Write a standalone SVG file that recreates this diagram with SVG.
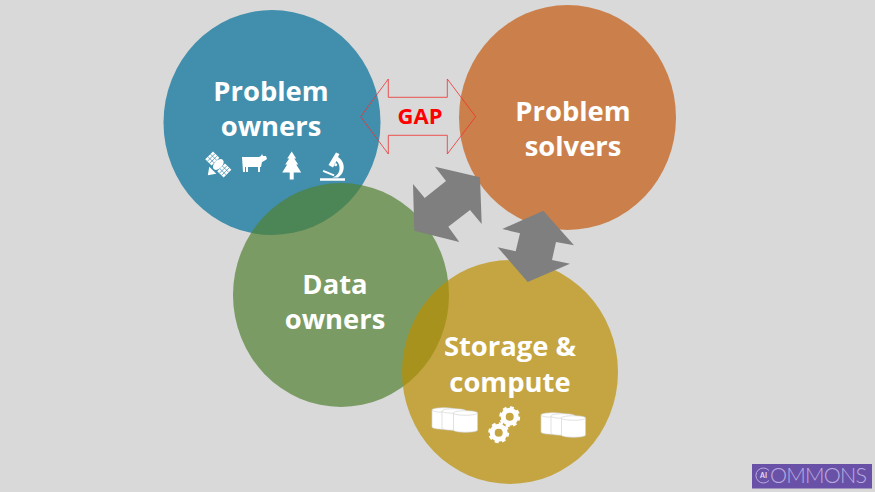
<svg xmlns="http://www.w3.org/2000/svg" width="875" height="492" viewBox="0 0 875 492">
<style>
.lbl{font-family:"Open Sans","Noto Sans",sans-serif;font-weight:700;font-size:27.4px;fill:#fff;text-anchor:middle}
.c{opacity:.7}
.ic{fill:#fff}
.cyl{fill:#fff;stroke:#d4d4d4;stroke-width:.7}
.grid{stroke:#3e8fad;stroke-width:.7;fill:none}
</style>
<defs>
<g id="cyl"><path class="cyl" d="M0 3C0 0 24 0 24 3V20C24 23 0 23 0 20Z"/><path d="M0 3C0 6 24 6 24 3" fill="none" stroke="#d4d4d4" stroke-width=".7"/></g>
<g id="gear"><circle r="6.500" fill="none" stroke="#fff" stroke-width="5"/><circle r="9.400" fill="none" stroke="#fff" stroke-width="2.200" stroke-dasharray="3.900 3.480"/></g>
</defs>
<rect width="875" height="492" fill="#d9d9d9"/>
<g id="node-problem-owners">
<ellipse class="c" cx="272" cy="122.500" rx="108.500" ry="112.500" fill="#006f9a"/>
<text class="lbl" x="271" y="100.500">Problem</text>
<text class="lbl" x="271" y="136">owners</text>
<g id="icons-domains" class="ic">
<g transform="rotate(45 218.300 164.500)">
<rect x="205.300" y="159" width="9" height="11"/><path class="grid" d="M208.300 159v11M211.300 159v11M205.300 162.700h9M205.300 166.300h9"/>
<rect x="222.300" y="159" width="9" height="11"/><path class="grid" d="M225.300 159v11M228.300 159v11M222.300 162.700h9M222.300 166.300h9"/>
<ellipse cx="218.300" cy="164.500" rx="4" ry="6.500"/>
<path d="M213.500 172.500h10l-5 7z"/>
</g>
<path d="M242 157h17l2-1 1-2 1 2h3l1 3-3 2-2 1-1 5h-1v5h-2v-5h-10v5h-2v-5h-1v5h-2z"/>
<path d="M291.700 151.500l4.500 7h-2l4 6h-2l5 8h-7.500v7h-4v-7h-7.500l5-8h-2l4-6h-2z"/>
<path fill-rule="evenodd" d="M336 152.500l3.500 1.500-1.500 3c4.500 3 6.500 8 5.500 12.500-.5 3-2.500 6-5.500 8h-5.500c3-1 6.500-3.500 7-8 .5-3.500-1-7-3-8.500l-3.500 6.500-4.500-2.500zM335.700 163.300a1.500 1.500 0 1 0 .01 0z"/>
<path d="M323.500 170l11 4.500-.8 1.800-11-4.500zM320 178.300h25v2.400h-25z"/>
</g>
</g>
<g id="node-problem-solvers">
<ellipse class="c" cx="567.500" cy="117.500" rx="108.500" ry="112.500" fill="#c55a10"/>
<text class="lbl" x="573" y="120.500">Problem</text>
<text class="lbl" x="573" y="156">solvers</text>
</g>
<g id="node-data-owners">
<ellipse class="c" cx="341" cy="295" rx="108" ry="112" fill="#518030"/>
<text class="lbl" x="335" y="293.500">Data</text>
<text class="lbl" x="335" y="329">owners</text>
</g>
<g id="node-storage-compute">
<ellipse class="c" cx="510" cy="372" rx="108" ry="112" fill="#bb8f00"/>
<text class="lbl" x="510" y="355.500">Storage &amp;</text>
<text class="lbl" x="510" y="391.500">compute</text>
<g id="icons-storage">
<use href="#cyl" transform="translate(432 407)"/>
<use href="#cyl" transform="translate(442 408)"/>
<use href="#cyl" transform="translate(453.500 410)"/>
<use href="#gear" transform="translate(509.700 416.700)"/>
<use href="#gear" transform="translate(498.700 432.700)"/>
<use href="#cyl" transform="translate(541 412)"/>
<use href="#cyl" transform="translate(551 413)"/>
<use href="#cyl" transform="translate(561.500 415)"/>
</g>
</g>
<g id="connectors">
<path id="gap-arrow" d="M360.700 116.700L388.300 79V97.300H447.300V79L475.700 116.700L447.300 154V135.300H388.300V154Z" fill="none" stroke="#f03030" stroke-width=".8"/>
<path d="M435 166.700L480 177.300L481.700 224L470 210L448.300 226.700L459.300 242L414.300 230.700L413 184L424.700 198L446 181Z" fill="#7f7f7f"/>
<path d="M543.300 210.700L574 245.300L556 242L552 260L570 263.700L527.700 282L497.700 247.300L515.700 251.300L520 233.300L502.300 229Z" fill="#7f7f7f"/>
</g>
<text x="420" y="124" font-family="'Open Sans','Noto Sans',sans-serif" font-weight="700" font-size="22px" fill="#f00" text-anchor="middle">GAP</text>
<g id="logo">
<rect x="752" y="464" width="120" height="24.500" fill="#6a51a8"/>
<path d="M769 470.500A7.500 7.500 0 1 0 769 480.500" fill="none" stroke="#b9acdf" stroke-width="1"/>
<text x="763.500" y="478.200" font-family="Lato,sans-serif" font-weight="700" font-size="7px" fill="#e4def5" text-anchor="middle">AI</text>
<text x="770" y="483" font-family="Lato,sans-serif" font-weight="300" font-size="21.500px" fill="#b9acdf" textLength="97">OMMONS</text>
</g>
</svg>
